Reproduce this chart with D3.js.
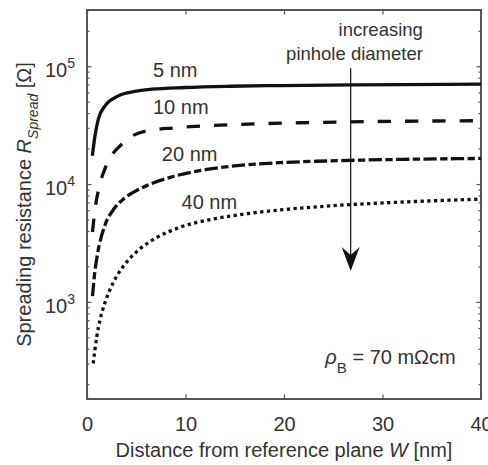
<!DOCTYPE html>
<html>
<head>
<meta charset="utf-8">
<script src="https://cdn.jsdelivr.net/npm/d3@7"></script>
<style>
  body { margin: 0; background: #fff; }
  svg text { font-family: "Liberation Sans", Arial, sans-serif; fill: #333; }
</style>
</head>
<body>
<div id="chart"></div>
<script>
// Spreading resistance vs distance from reference plane, log y axis

// Data (W in nm, R in Ohm)
var w5  = [0.54, 0.81, 1.15, 1.83, 3.18, 4.87, 6.57, 9.95, 14.5, 19.6, 24.7, 32, 40];
var r5  = [17400, 25600, 35600, 46100, 56000, 61100, 63800, 66000, 67600, 68500, 69200, 69900, 70400];

var w10 = [0.56, 0.8, 1.22, 1.90, 3.53, 6.06, 8.93, 15.2, 22.9, 25.4, 32, 40];
var r10 = [3920, 6000, 9300, 14000, 21800, 28300, 30000, 32000, 33300, 33600, 34100, 34500];

var w20 = [0.56, 0.81, 1.02, 1.83, 2.67, 3.69, 4.70, 6.06, 8.76, 12.15, 15.5, 19.6, 24.3, 32, 40];
var r20 = [1120, 1850, 2420, 4500, 6050, 7460, 8510, 9700, 11600, 13300, 14400, 15200, 15700, 16200, 16500];

var w40 = [0.63, 0.98, 1.32, 1.83, 2.34, 3.01, 4.03, 5.38, 7.08, 9.44, 12.8, 16.2, 19.6, 24.3, 31.4, 40];
var r40 = [300, 500, 700, 990, 1280, 1650, 2180, 2820, 3520, 4300, 5050, 5600, 6030, 6500, 7000, 7450];

var curveNames = ["5 nm", "10 nm", "20 nm", "40 nm"];

// Axis ticks
var xTicks = [0, 10, 20, 30, 40];
var yMajor = [1e3, 1e4, 1e5];
var yMinor = [200, 300, 400, 500, 600, 700, 800, 900,
              2000, 3000, 4000, 5000, 6000, 7000, 8000, 9000,
              20000, 30000, 40000, 50000, 60000, 70000, 80000, 90000,
              200000, 300000];

// SVG setup
var svgWidth = 488;
var svgHeight = 465;
var margin = { top: 10, right: 7, bottom: 66, left: 87 };
var width = svgWidth - margin.left - margin.right;
var height = svgHeight - margin.top - margin.bottom;

var svg = d3.select("#chart").append("svg")
    .attr("width", svgWidth)
    .attr("height", svgHeight);

var chartGroup = svg.append("g")
    .attr("transform", `translate(${margin.left}, ${margin.top})`);

// Scales
var x = d3.scaleLinear().domain([0, 40]).range([0, width]);
var y = d3.scaleLog().domain([150, 3e5]).range([height, 0]);

var axisColor = "#555";

// Ticks (inward, mirrored on all four sides)
function styleAxis(g) {
    g.select(".domain").remove();
    g.selectAll(".tick line").attr("stroke", axisColor).attr("stroke-width", 1.2);
}

chartGroup.append("g")
    .attr("transform", `translate(0, ${height})`)
    .call(d3.axisBottom(x).tickValues(xTicks).tickSize(-4.5).tickPadding(18))
    .call(styleAxis)
    .call(g => g.selectAll(".tick text")
        .attr("font-size", 20).attr("fill", "#333")
        .attr("font-family", "Liberation Sans, Arial, sans-serif"));

chartGroup.append("g")
    .call(d3.axisBottom(x).tickValues(xTicks).tickSize(4.5).tickFormat(""))
    .call(styleAxis);

chartGroup.append("g")
    .call(d3.axisLeft(y).tickValues(yMajor).tickSize(-4.5).tickFormat(""))
    .call(styleAxis);
chartGroup.append("g")
    .call(d3.axisLeft(y).tickValues(yMinor).tickSize(-2.5).tickFormat(""))
    .call(styleAxis);
chartGroup.append("g")
    .attr("transform", `translate(${width}, 0)`)
    .call(d3.axisLeft(y).tickValues(yMajor).tickSize(4.5).tickFormat(""))
    .call(styleAxis);
chartGroup.append("g")
    .attr("transform", `translate(${width}, 0)`)
    .call(d3.axisLeft(y).tickValues(yMinor).tickSize(2.5).tickFormat(""))
    .call(styleAxis);

// Y tick labels as 10^n
var yLabels = chartGroup.selectAll(".ylab")
    .data(yMajor)
    .enter()
    .append("text")
    .attr("class", "ylab")
    .attr("x", -12)
    .attr("y", d => y(d) + 11)
    .attr("text-anchor", "end")
    .attr("font-size", 20);
yLabels.append("tspan").text("10");
yLabels.append("tspan")
    .attr("font-size", 14)
    .attr("dy", -9)
    .text(d => Math.round(Math.log10(d)));

// Plot box
chartGroup.append("rect")
    .attr("width", width)
    .attr("height", height)
    .attr("fill", "none")
    .attr("stroke", axisColor)
    .attr("stroke-width", 2);

// Curves
var series = [
    { w: w5,  r: r5,  dash: null },
    { w: w10, r: r10, dash: "13.3,14" },
    { w: w20, r: r20, dash: "13.3,3.4,7.3,3.4" },
    { w: w40, r: r40, dash: "3.3,3.4" }
];

var line = d3.line()
    .x(d => x(d[0]))
    .y(d => y(d[1]))
    .curve(d3.curveMonotoneX);

series.forEach(function(s) {
    chartGroup.append("path")
        .datum(s.w.map((v, i) => [v, s.r[i]]))
        .attr("fill", "none")
        .attr("stroke", "#111")
        .attr("stroke-width", 3.3)
        .attr("stroke-dasharray", s.dash)
        .attr("d", line);
});

// Curve labels
var labelPos = [[6.7, 80700], [6.7, 39000], [7.6, 15800], [9.6, 6100]];
chartGroup.selectAll(".clab")
    .data(curveNames)
    .enter()
    .append("text")
    .attr("class", "clab")
    .attr("x", (d, i) => x(labelPos[i][0]))
    .attr("y", (d, i) => y(labelPos[i][1]))
    .attr("font-size", 20)
    .attr("fill", "#222")
    .text(d => d);

// Annotation: increasing pinhole diameter + arrow
var arrowW = 26.77;
chartGroup.append("text")
    .attr("x", x(34.1)).attr("y", y(180000))
    .attr("text-anchor", "end").attr("font-size", 18.5).attr("fill", "#222")
    .text("increasing");
chartGroup.append("text")
    .attr("x", x(34.1)).attr("y", y(112000))
    .attr("text-anchor", "end").attr("font-size", 18.5).attr("fill", "#222")
    .text("pinhole diameter");

var tipY = y(1830);
chartGroup.append("line")
    .attr("x1", x(arrowW)).attr("x2", x(arrowW))
    .attr("y1", y(96000)).attr("y2", tipY - 14)
    .attr("stroke", "#111").attr("stroke-width", 1.2);
chartGroup.append("path")
    .attr("transform", `translate(${x(arrowW)}, ${tipY})`)
    .attr("d", "M0,0 L-9,-24 L0,-16 L9,-24 Z")
    .attr("fill", "#111");

// rho_B label
var rho = chartGroup.append("text")
    .attr("x", x(24.2)).attr("y", y(299))
    .attr("font-size", 20).attr("fill", "#222");
rho.append("tspan").attr("font-style", "italic").text("\u03C1");
rho.append("tspan").attr("font-size", 15).attr("dy", 9).text("B");
rho.append("tspan").attr("dy", -9).text(" = 70 m\u03A9cm");

// Axis titles
svg.append("text")
    .attr("x", margin.left + width / 2)
    .attr("y", 457)
    .attr("text-anchor", "middle")
    .attr("font-size", 20)
    .attr("fill", "#444")
    .html("Distance from reference plane <tspan font-style='italic'>W</tspan> [nm]");

svg.append("text")
    .attr("transform", `translate(31, ${margin.top + height / 2}) rotate(-90)`)
    .attr("text-anchor", "middle")
    .attr("font-size", 20)
    .attr("fill", "#444")
    .html("Spreading resistance <tspan font-style='italic'>R</tspan>" +
          "<tspan font-style='italic' font-size='14' dy='7'>Spread</tspan>" +
          "<tspan dy='-7'> [\u03A9]</tspan>");
</script>
</body>
</html>
